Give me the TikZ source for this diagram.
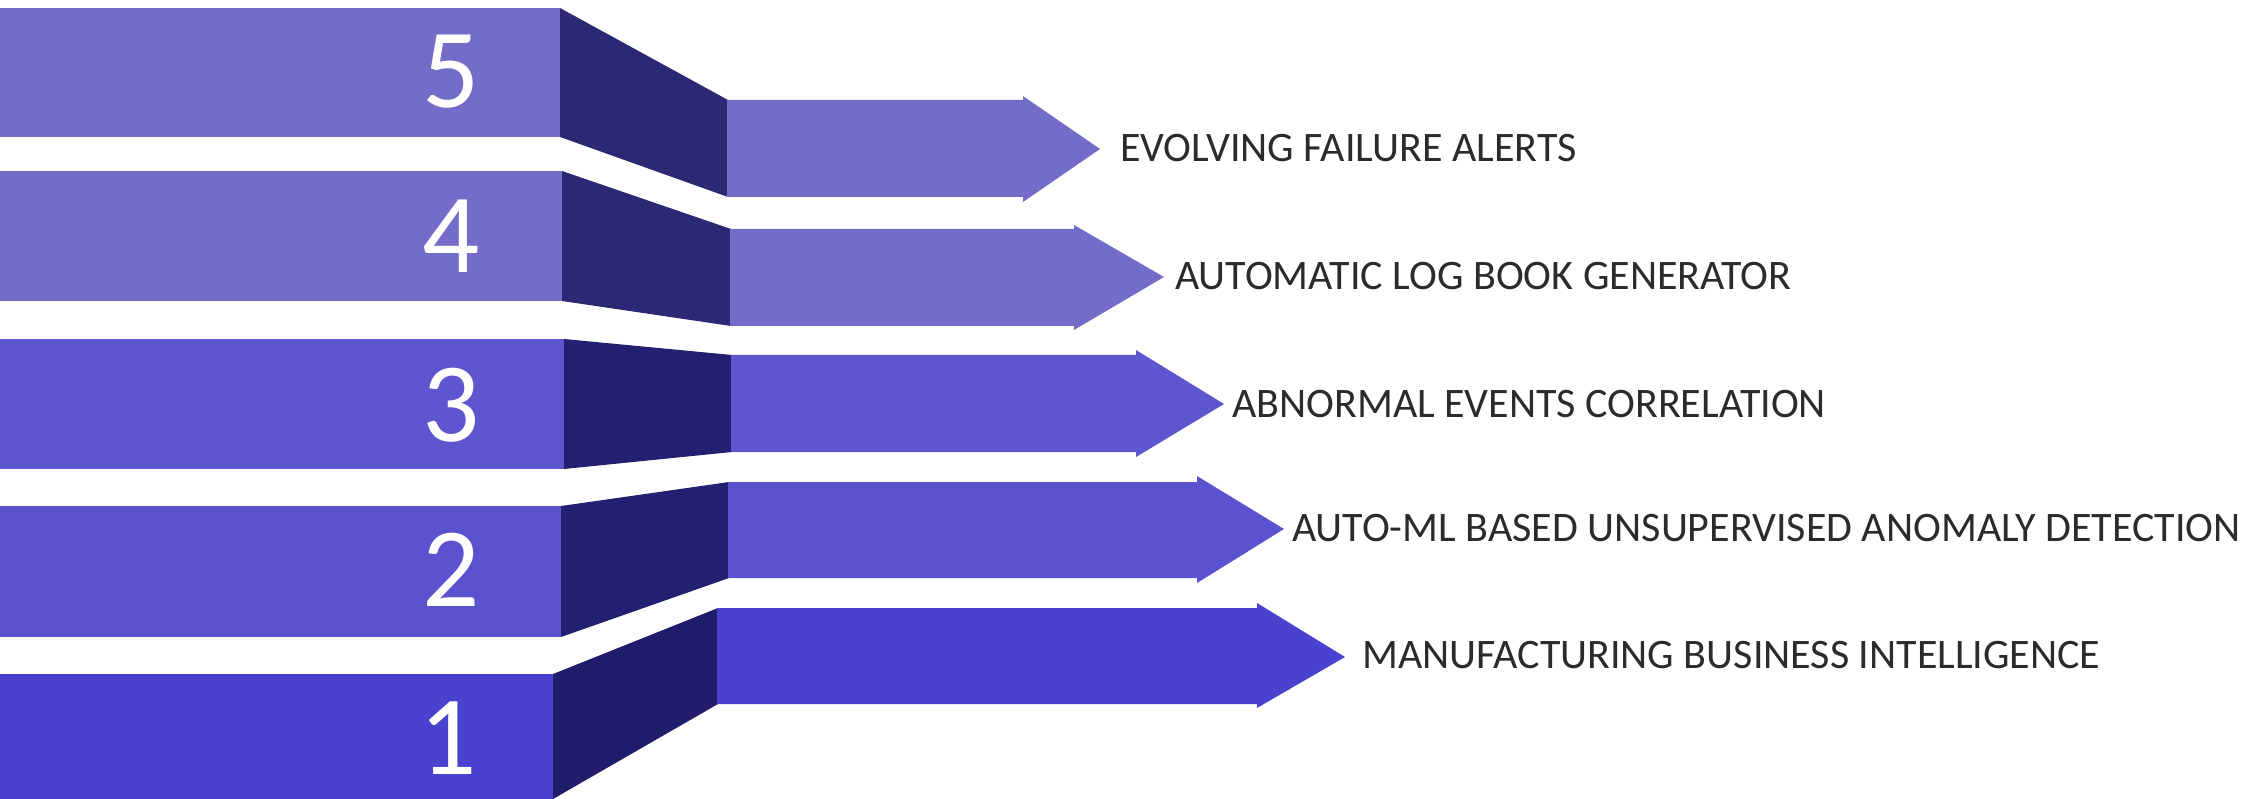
\documentclass[tikz,border=0pt]{standalone}
\usepackage{fontspec}
\setmainfont{Carlito}
\definecolor{barA}{HTML}{736DC9}
\definecolor{barB}{HTML}{5D56CE}
\definecolor{barC}{HTML}{5A52CF}
\definecolor{barD}{HTML}{4842CE}
\definecolor{sideA}{HTML}{2D2873}
\definecolor{sideB}{HTML}{231F71}
\definecolor{sideC}{HTML}{211C6C}
\definecolor{labelgray}{HTML}{2B2B2B}
\tikzset{
  num/.style={text=white, inner sep=0pt, font=\fontsize{113}{113}\selectfont},
  lbl/.style={text=labelgray, inner sep=0pt, anchor=west, font=\fontsize{42}{42}\selectfont},
}
% arrow shape: colour, left x, right end of body, top y, bottom y, barb top, barb bottom, tip x, tip y
\newcommand{\stagearrow}[9]{%
  \fill[#1] (#2,-#4) -- (#3,-#4) -- (#3,-#6) -- (#8,-#9) -- (#3,-#7) -- (#3,-#5) -- (#2,-#5) -- cycle;}
\begin{document}
\begin{tikzpicture}[x=1pt,y=1pt]
\useasboundingbox (0,0) rectangle (2260,-799);

% left blocks
\fill[barA] (0,-8) rectangle (560,-137);
\fill[barA] (0,-171) rectangle (562,-301);
\fill[barB] (0,-339) rectangle (564,-469);
\fill[barC] (0,-506) rectangle (561,-637);
\fill[barD] (0,-674) rectangle (553,-799);

% slanted side faces
\fill[sideA] (560,-8) -- (728,-100) -- (728,-197) -- (560,-137) -- cycle;
\fill[sideA] (562,-171) -- (731,-229) -- (731,-326) -- (562,-301) -- cycle;
\fill[sideB] (564,-339) -- (732,-355) -- (732,-452) -- (564,-469) -- cycle;
\fill[sideB] (561,-506) -- (729,-482) -- (729,-578) -- (561,-637) -- cycle;
\fill[sideC] (553,-674) -- (718,-608) -- (718,-704) -- (553,-799) -- cycle;

% arrows
\stagearrow{barA}{727}{1023}{100}{197}{96}{202}{1100}{149}
\stagearrow{barA}{730}{1074}{229}{326}{225}{330}{1164}{277}
\stagearrow{barB}{731}{1136}{355}{452}{350}{457}{1224}{404}
\stagearrow{barC}{728}{1197}{482}{578}{476}{583}{1284}{529}
\stagearrow{barD}{717}{1257}{608}{704}{603}{708}{1345}{657}

% step numbers
\node[num] (n5) at (451,-72) {5};
\node[num] (n4) at (451,-236) {4};
\node[num] (n3) at (451,-405) {3};
\node[num] (n2) at (451,-570) {2};
\node[num] (n1) at (448,-738) {1};

% stage labels
\node[lbl] (l5) at (1120,-148) {EVOLVING FAILURE ALERTS};
\node[lbl] (l4) at (1175,-276) {AUTOMATIC LOG BOOK GENERATOR};
\node[lbl] (l3) at (1232,-404) {ABNORMAL EVENTS CORRELATION};
\node[lbl] (l2) at (1292,-528) {AUTO-ML BASED UNSUPERVISED ANOMALY DETECTION};
\node[lbl] (l1) at (1362,-655) {MANUFACTURING BUSINESS INTELLIGENCE};
\end{tikzpicture}
\end{document}
